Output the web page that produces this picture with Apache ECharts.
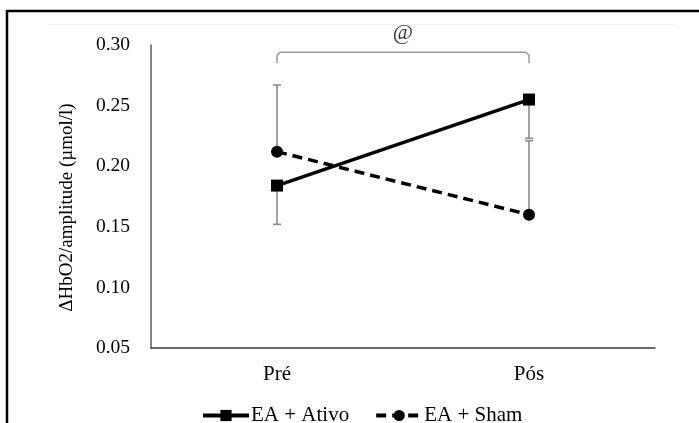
<!DOCTYPE html>
<html>
<head>
<meta charset="utf-8">
<script src="https://cdn.jsdelivr.net/npm/echarts@6/dist/echarts.min.js"></script>
<style>
  html, body { margin: 0; padding: 0; background: #fff; }
  #chart { width: 699px; height: 423px; }
</style>
</head>
<body>
<div id="chart"></div>
<script>
// Time points and group means with one-sided standard deviations
const categories = ['Pré', 'Pós'];
const ativoMean = [0.184, 0.255];
const ativoErr = [0.032, 0.032];   // drawn below the mean
const shamMean = [0.212, 0.160];
const shamErr = [0.055, 0.061];    // drawn above the mean
const yTicks = [0.05, 0.10, 0.15, 0.20, 0.25, 0.30];
// Significance bracket between the two time points
const bracketLevel = 0.294;
const bracketFoot = 0.285;
const bracketLabel = '@';

const serif = '"Liberation Serif", "Times New Roman", serif';

// [x index, from, to] for each error whisker
const ativoWhiskers = ativoMean.map((m, i) => [i, m, m - ativoErr[i]]);
const shamWhiskers = shamMean.map((m, i) => [i, m, m + shamErr[i]]);

function whisker(params, api) {
  const p0 = api.coord([api.value(0), api.value(1)]);
  const p1 = api.coord([api.value(0), api.value(2)]);
  const style = { stroke: '#8c8c8c', lineWidth: 1.6 };
  return {
    type: 'group',
    children: [
      { type: 'line', shape: { x1: p0[0], y1: p0[1], x2: p1[0], y2: p1[1] }, style },
      { type: 'line', shape: { x1: p1[0] - 4, y1: p1[1], x2: p1[0] + 4, y2: p1[1] }, style }
    ]
  };
}

const chart = echarts.init(document.getElementById('chart'));
chart.setOption({
  animation: false,
  backgroundColor: '#fff',
  graphic: [
    { type: 'rect', shape: { x: 7, y: 11, width: 720, height: 440 },
      style: { fill: 'none', stroke: '#000', lineWidth: 2.5 }, silent: true },
    { type: 'line', shape: { x1: 48, y1: 24.5, x2: 675, y2: 24.5 },
      style: { stroke: '#f1f1f1', lineWidth: 1 }, silent: true }
  ],
  grid: { left: 151, right: 44, top: 45, bottom: 75 },
  legend: {
    top: 400,
    left: 196,
    itemWidth: 46,
    itemHeight: 14,
    itemGap: 25,
    lineStyle: { width: 4 },
    textStyle: { fontFamily: serif, fontSize: 21, color: '#000', padding: [0, 0, 0, -3] },
    data: ['EA + Ativo', 'EA + Sham']
  },
  xAxis: {
    type: 'category',
    data: categories,
    boundaryGap: true,
    axisLine: { show: true, lineStyle: { color: '#3a3a3a', width: 1.5 } },
    axisTick: { show: false },
    axisLabel: { fontFamily: serif, fontSize: 21, color: '#000', margin: 16 },
    splitLine: { show: false }
  },
  yAxis: {
    type: 'value',
    min: yTicks[0],
    max: yTicks[yTicks.length - 1],
    interval: 0.05,
    name: 'ΔHbO2/amplitude (µmol/l)',
    nameLocation: 'middle',
    nameGap: 74,
    nameRotate: 90,
    nameTextStyle: { fontFamily: serif, fontSize: 19, color: '#000', padding: [0, 0, 0, -22] },
    axisLine: { show: true, lineStyle: { color: '#5a5a5a', width: 1.5 } },
    axisTick: { show: false },
    splitLine: { show: false },
    axisLabel: {
      fontFamily: serif, fontSize: 19.5, color: '#000', margin: 21,
      formatter: v => v.toFixed(2)
    }
  },
  series: [
    {
      type: 'custom',
      name: 'ativoErr',
      data: ativoWhiskers,
      renderItem: whisker,
      z: 1,
      silent: true
    },
    {
      type: 'custom',
      name: 'shamErr',
      data: shamWhiskers,
      renderItem: whisker,
      z: 1,
      silent: true
    },
    {
      type: 'custom',
      name: 'bracket',
      data: [[0, 1, bracketLevel, bracketFoot]],
      clip: false,
      silent: true,
      z: 1,
      renderItem: function (params, api) {
        const a = api.coord([api.value(0), api.value(2)]);
        const b = api.coord([api.value(1), api.value(2)]);
        const fa = api.coord([api.value(0), api.value(3)]);
        const r = 3;
        return {
          type: 'group',
          children: [
            {
              type: 'polyline',
              shape: {
                points: [
                  [a[0], fa[1]], [a[0], a[1] + r], [a[0] + r, a[1]],
                  [b[0] - r, b[1]], [b[0], b[1] + r], [b[0], fa[1]]
                ]
              },
              style: { stroke: '#9a9a9a', lineWidth: 1.5, fill: 'none' }
            },
            {
              type: 'text',
              style: {
                text: bracketLabel,
                x: (a[0] + b[0]) / 2, y: a[1] - 19,
                fill: '#333', font: '22px ' + serif,
                align: 'center', verticalAlign: 'middle'
              }
            }
          ]
        };
      }
    },
    {
      type: 'line',
      name: 'EA + Ativo',
      data: ativoMean,
      symbol: 'rect',
      symbolSize: 12,
      lineStyle: { color: '#000', width: 3.5 },
      itemStyle: { color: '#000' },
      z: 3
    },
    {
      type: 'line',
      name: 'EA + Sham',
      data: shamMean,
      symbol: 'circle',
      symbolSize: 12,
      lineStyle: { color: '#000', width: 3.5, type: [10, 6] },
      itemStyle: { color: '#000' },
      z: 3
    }
  ]
});
</script>
</body>
</html>
